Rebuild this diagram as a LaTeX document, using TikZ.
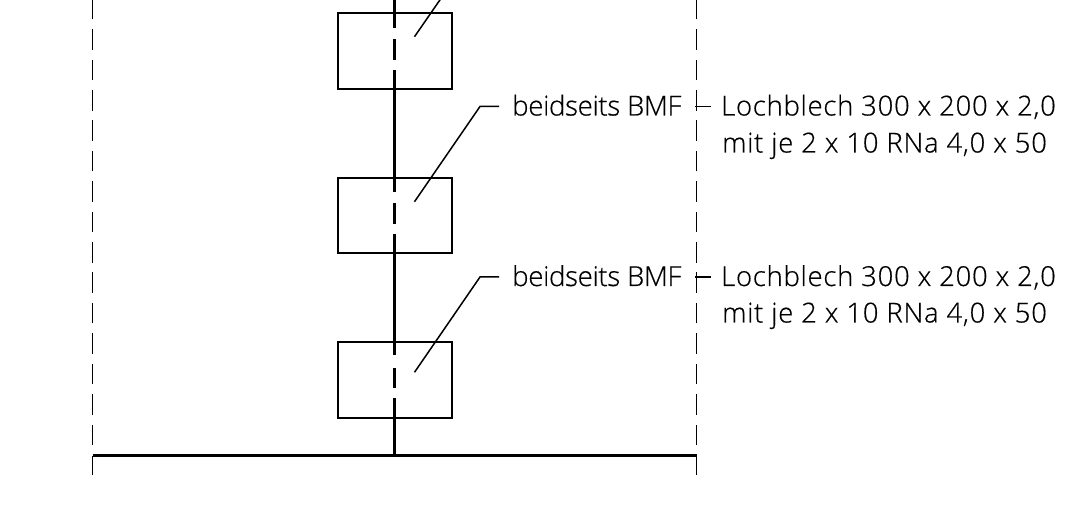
\documentclass[tikz,border=0pt]{standalone}
\usepackage{fontspec}
\newfontfamily\laba{Open Sans Light}[LetterSpace=-1,FakeBold=0.5]
\newfontfamily\labb{Open Sans Light}[LetterSpace=2.6,FakeBold=0.5]
\newfontfamily\labc{Open Sans Light}[LetterSpace=2.7,FakeBold=0.5]
\tikzset{
 x=1pt,y=-1pt,
 thick line/.style={line width=3pt},
 boxed/.style={draw,line width=2pt,minimum width=113.5pt,minimum height=75.5pt,inner sep=0pt},
 thin line/.style={line width=1.5pt},
 border/.style={line width=1.8pt,dash pattern=on 20.5pt off 9.9pt},
 txt/.style={inner sep=0pt,anchor=base west},
 txta/.style={txt,font=\laba\fontsize{27.5}{37}\selectfont},
 txtb/.style={txt,font=\labb\fontsize{27.5}{37}\selectfont},
 txtc/.style={txt,font=\labc\fontsize{27.5}{37}\selectfont},
}
\begin{document}
\begin{tikzpicture}
\useasboundingbox (0,0) rectangle (1079,510);
\begin{scope}
\clip (0,0) rectangle (1079,510);
\node[boxed] (b1) at (395,51.2) {};
\node[boxed] (b2) at (395,215.7) {};
\node[boxed] (b3) at (395,380.2) {};
% centre line
\draw[thick line] (394.7,0) -- (394.7,28) (394.7,39) -- (394.7,60) (394.7,70) -- (394.7,89)--(394.7,192.5) (394.7,203)--(394.7,224) (394.7,234)--(394.7,253.5)--(394.7,355.5) (394.7,368)--(394.7,388) (394.7,398)--(394.7,455.5);
% base
\coordinate (bl) at (92.5,455.5);
\coordinate (br) at (696.5,455.5);
\draw[thick line] (bl) -- (br);
\draw[thin line] (bl) -- (92.5,475);
\draw[thin line] (br) -- (696.5,475);
\draw[border] (92.5,445) -- (92.5,0);
\draw[border] (696.5,445) -- (696.5,0);
% leaders
\draw[thin line] (414.5,36.7) -- (480,-58);
\draw[thin line] (414.5,201.7) -- (480,106.5) -- (499,106.5);
\draw[thin line] (414.5,372.3) -- (480,277) -- (499,277);
\draw[thin line] (695,106.5) -- (710.5,106.5);
\draw[thin line] (695,277) -- (710.5,277);
\end{scope}
\node[txta] (t1) at (512,115.5) {beidseits BMF};
\node[txtb] (t2) at (721,115.5) {Lochblech 300 x 200 x 2,0};
\node[txtc] (t3) at (722,152.5) {mit je 2 x 10 RNa 4,0 x 50};
\node[txta] (t4) at (512,286) {beidseits BMF};
\node[txtb] (t5) at (721,286) {Lochblech 300 x 200 x 2,0};
\node[txtc] (t6) at (722,322.5) {mit je 2 x 10 RNa 4,0 x 50};
\end{tikzpicture}
\end{document}
